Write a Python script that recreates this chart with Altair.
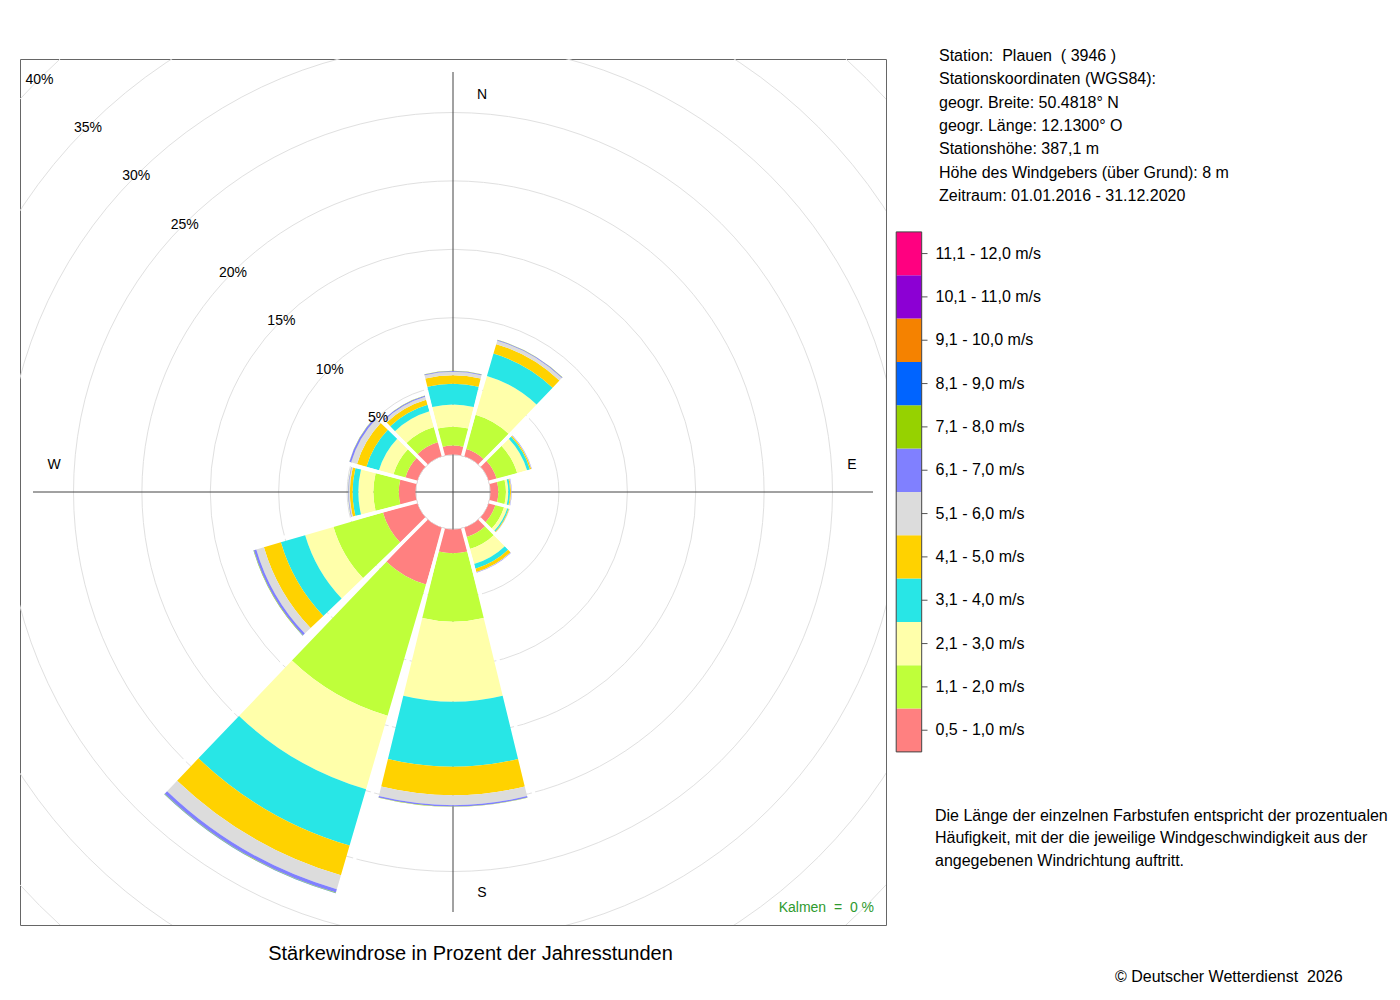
import math
import altair as alt
import pandas as pd

FONT = "Liberation Sans"
NB = "\u00a0"

# ---- data ----
directions = [0, 30, 60, 90, 120, 150, 180, 210, 240, 270, 300, 330]
speed_classes = [
    "0,5 - 1,0 m/s", "1,1 - 2,0 m/s", "2,1 - 3,0 m/s", "3,1 - 4,0 m/s",
    "4,1 - 5,0 m/s", "5,1 - 6,0 m/s", "6,1 - 7,0 m/s", "7,1 - 8,0 m/s",
    "8,1 - 9,0 m/s", "9,1 - 10,0 m/s", "10,1 - 11,0 m/s", "11,1 - 12,0 m/s",
]
class_colors = [
    "#FF8080", "#BFFF3A", "#FFFFAA", "#28E6E6", "#FFD200", "#DCDCDC",
    "#8080FF", "#96D200", "#0064FF", "#F58200", "#8C00D4", "#FF0080",
]
# percent of hours per direction (N, 30, 60, ... 330)
pct_c01 = [0.65, 0.55, 0.60, 0.57, 0.50, 0.70, 1.74, 4.30, 2.60, 1.22, 0.90, 1.06]
pct_c02 = [1.38, 2.59, 1.55, 0.56, 0.65, 0.90, 5.00, 10.00, 3.76, 1.86, 0.90, 1.14]
pct_c03 = [1.63, 2.96, 0.75, 0.17, 0.25, 1.15, 5.85, 5.60, 2.16, 1.10, 1.10, 1.20]
pct_c04 = [1.51, 1.70, 0.22, 0.13, 0.10, 0.35, 4.75, 4.29, 1.85, 0.42, 0.95, 0.50]
pct_c05 = [0.62, 0.72, 0.10, 0.07, 0.05, 0.25, 2.07, 2.26, 1.29, 0.20, 0.72, 0.38]
pct_c06 = [0.25, 0.26, 0.03, 0.03, 0.02, 0.03, 0.73, 1.06, 0.58, 0.08, 0.45, 0.23]
pct_c07 = [0.06, 0.06, 0.02, 0.02, 0.01, 0.02, 0.10, 0.25, 0.18, 0.04, 0.13, 0.08]
pct_c08 = [0.01, 0.01, 0.00, 0.00, 0.00, 0.00, 0.02, 0.04, 0.03, 0.01, 0.01, 0.01]
pct_c09 = [0.00, 0.00, 0.00, 0.00, 0.00, 0.00, 0.00, 0.01, 0.01, 0.00, 0.00, 0.00]
pct_c10 = [0.0] * 12
pct_c11 = [0.0] * 12
pct_c12 = [0.0] * 12
class_values = [pct_c01, pct_c02, pct_c03, pct_c04, pct_c05, pct_c06,
                pct_c07, pct_c08, pct_c09, pct_c10, pct_c11, pct_c12]

ring_pcts = [5, 10, 15, 20, 25, 30, 35, 40]
ring_labels = ["5%", "10%", "15%", "20%", "25%", "30%", "35%", "40%"]
compass_ns = ["N", "S"]
compass_ns_bearing = [0, 180]
compass_ew = ["E", "W"]
compass_ew_bearing = [90, 270]

station_lines = [
    "Station:" + NB + " Plauen" + NB + " ( 3946 )",
    "Stationskoordinaten (WGS84):",
    "geogr. Breite: 50.4818\u00b0 N",
    "geogr. L\u00e4nge: 12.1300\u00b0 O",
    "Stationsh\u00f6he: 387,1 m",
    "H\u00f6he des Windgebers (\u00fcber Grund): 8 m",
    "Zeitraum: 01.01.2016 - 31.12.2020",
]
note_lines = [
    "Die L\u00e4nge der einzelnen Farbstufen entspricht der prozentualen",
    "H\u00e4ufigkeit, mit der die jeweilige Windgeschwindigkeit aus der",
    "angegebenen Windrichtung auftritt.",
]
title_text = "St\u00e4rkewindrose in Prozent der Jahresstunden"
copyright_text = "\u00a9 Deutscher Wetterdienst" + NB + " 2026"
calm_text = "Kalmen" + NB + " =" + NB + " 0 %"

# ---- tables built from the arrays ----
HALF = 13.7
rows = []
totals = []
for i, d in enumerate(directions):
    cum = 0.0
    for j, cls in enumerate(speed_classes):
        v = class_values[j][i]
        if v > 0:
            rows.append({"dir": d, "cls": cls, "r0": cum, "r1": cum + v,
                         "t1": d - HALF, "t2": d + HALF})
            cum += v
    totals.append(cum)
seg_df = pd.DataFrame(rows)

gap_df = pd.DataFrame({
    "b": [d + 15 for d in directions],
    "rmax": [max(totals[k], totals[(k + 1) % 12]) + 0.6 for k in range(12)],
    "r0": [0.0] * 12,
})
ring_df = pd.DataFrame({"p": ring_pcts, "label": ring_labels})
ns_df = pd.DataFrame({"b": compass_ns_bearing, "label": compass_ns})
ew_df = pd.DataFrame({"b": compass_ew_bearing, "label": compass_ew})
legend_df = pd.DataFrame({"cls": speed_classes})
one = pd.DataFrame({"k": [0]})

theta_scale = alt.Scale(domain=[0, 360], range=[0, 2 * math.pi])
radius_scale = alt.Scale(type="linear", domain=[0, 40], range=[37.5, 37.5 + 40 * 13.68], zero=False)
color_scale = alt.Scale(domain=speed_classes, range=class_colors)

grid = alt.Chart(ring_df).mark_arc(fillOpacity=0, stroke="#e0e0e0", strokeWidth=1, clip=True).encode(
    theta=alt.value(0), theta2=alt.value(2 * math.pi),
    radius=alt.Radius("p:Q", scale=radius_scale, stack=False),
)

vline = alt.Chart(one).mark_rule(color="#444444", strokeWidth=1).encode(
    x=alt.value(433), y=alt.value(13), y2=alt.value(853))
hline = alt.Chart(one).mark_rule(color="#444444", strokeWidth=1).encode(
    y=alt.value(433), x=alt.value(13), x2=alt.value(853))

sectors = alt.Chart(seg_df).mark_arc().encode(
    theta=alt.Theta("t1:Q", scale=theta_scale, stack=False),
    theta2="t2:Q",
    radius=alt.Radius("r1:Q", scale=radius_scale, stack=False),
    radius2="r0:Q",
    color=alt.Color("cls:N", scale=color_scale, legend=None),
)

gaps = alt.Chart(gap_df).mark_arc(fillOpacity=0, stroke="white", strokeWidth=3.5).encode(
    theta=alt.Theta("b:Q", scale=theta_scale, stack=False),
    theta2="b:Q",
    radius=alt.Radius("rmax:Q", scale=radius_scale, stack=False),
    radius2="r0:Q",
)

pct_labels = alt.Chart(ring_df).mark_text(font=FONT, fontSize=14, color="black",
                                          align="center", baseline="middle", dy=1).encode(
    theta=alt.value(315 * math.pi / 180),
    radius=alt.Radius("p:Q", scale=radius_scale, stack=False),
    text="label:N",
)

ns_labels = alt.Chart(ns_df).mark_text(font=FONT, fontSize=14, color="black", dx=29, dy=2,
                                       align="center", baseline="middle").encode(
    theta=alt.Theta("b:Q", scale=theta_scale, stack=False),
    radius=alt.value(399),
    text="label:N",
)
ew_labels = alt.Chart(ew_df).mark_text(font=FONT, fontSize=14, color="black", dy=-27,
                                       align="center", baseline="middle").encode(
    theta=alt.Theta("b:Q", scale=theta_scale, stack=False),
    radius=alt.value(399),
    text="label:N",
)

calm = alt.Chart(one).mark_text(font=FONT, fontSize=14, color="#2E9A2E",
                                align="right", baseline="middle").encode(
    x=alt.value(854), y=alt.value(849), text=alt.value(calm_text))

leg_y = alt.Y("cls:N", scale=alt.Scale(domain=list(reversed(speed_classes)),
                                        range=[172.9, 692.9], paddingInner=0, paddingOuter=0),
              axis=None)
leg_rect = alt.Chart(legend_df).mark_rect().encode(
    y=leg_y, x=alt.value(876.2), x2=alt.value(901.7),
    color=alt.Color("cls:N", scale=color_scale, legend=None))
leg_tick = alt.Chart(legend_df).mark_rule(color="#555555", strokeWidth=1).encode(
    y=leg_y, x=alt.value(901.7), x2=alt.value(907.5))
leg_text = alt.Chart(legend_df).mark_text(font=FONT, fontSize=16, color="black",
                                          align="left", baseline="middle").encode(
    y=leg_y, x=alt.value(915.5), text="cls:N")
leg_border = alt.Chart(one).mark_rect(fillOpacity=0, stroke="#444444", strokeWidth=1).encode(
    x=alt.value(876.2), x2=alt.value(901.7), y=alt.value(172.9), y2=alt.value(692.9))

station = alt.Chart(one).mark_text(font=FONT, fontSize=16, color="black", align="left",
                                   baseline="top", lineHeight=23.33).encode(
    x=alt.value(919), y=alt.value(-11), text=alt.value(station_lines))
note = alt.Chart(one).mark_text(font=FONT, fontSize=16, color="black", align="left",
                                baseline="top", lineHeight=22.5).encode(
    x=alt.value(915), y=alt.value(748.5), text=alt.value(note_lines))
title = alt.Chart(one).mark_text(font=FONT, fontSize=20, color="black", align="center",
                                 baseline="middle").encode(
    x=alt.value(450.5), y=alt.value(895), text=alt.value(title_text))
copyright_mark = alt.Chart(one).mark_text(font=FONT, fontSize=16, color="black", align="left",
                                          baseline="middle").encode(
    x=alt.value(1095), y=alt.value(917.5), text=alt.value(copyright_text))

chart = alt.layer(
    grid, vline, hline, sectors, gaps, pct_labels, ns_labels, ew_labels, calm,
    leg_rect, leg_tick, leg_border, leg_text, station, note, title, copyright_mark,
).properties(
    width=866, height=866,
    padding={"left": 12, "top": 51, "right": 506, "bottom": 60},
    autosize=alt.AutoSizeParams(type="none"),
    background="white",
).configure_view(stroke="#666666", strokeWidth=1)

chart.save("out.html", embed_options={"renderer": "svg", "actions": False})
